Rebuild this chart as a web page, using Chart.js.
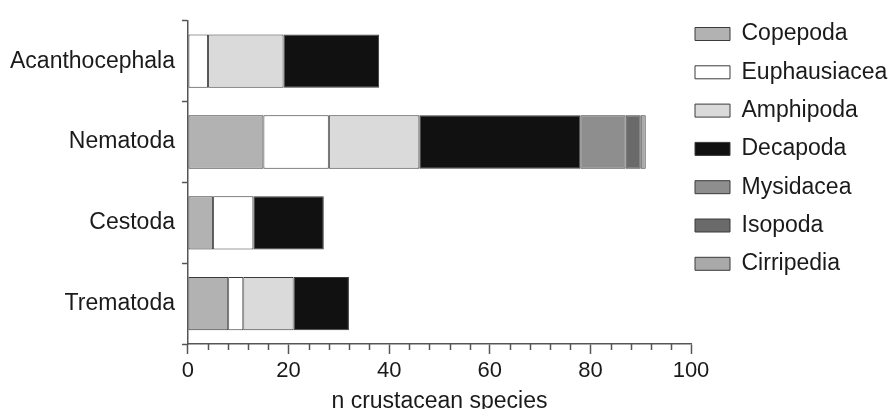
<!DOCTYPE html>
<html>
<head>
<meta charset="utf-8">
<script src="https://cdn.jsdelivr.net/npm/chart.js@4"></script>
<style>
  html, body { margin: 0; padding: 0; background: #fff; }
  #wrap { width: 893px; height: 409px; }
</style>
</head>
<body>
<div id="wrap"><canvas id="chart"></canvas></div>
<script>
// Number of crustacean host species per parasite group
var categories   = [ 'Acanthocephala', 'Nematoda', 'Cestoda', 'Trematoda' ];
var copepoda     = [ 0, 15, 5, 8 ];
var euphausiacea = [ 4, 13, 8, 3 ];
var amphipoda    = [ 15, 18, 0, 10 ];
var decapoda     = [ 19, 32, 14, 11 ];
var mysidacea    = [ 0, 9, 0, 0 ];
var isopoda      = [ 0, 3, 0, 0 ];
var cirripedia   = [ 0, 1, 0, 0 ];

var FONT = 'Liberation Sans, Arial, Helvetica, sans-serif';
var EDGE = '#3a3a3a';
var AXIS = '#555555';

function series( label, data, fill ) {
	return {
		label: label,
		// empty segments are left out so no stray outline is drawn at 0
		data: data.map( function ( v ) { return v || null; } ),
		backgroundColor: fill,
		borderColor: EDGE,
		borderWidth: 1,
		borderSkipped: false,
		barPercentage: 0.66,
		categoryPercentage: 1
	};
}

// short minor ticks every 4 units, under the long major ticks
var minorTicks = {
	id: 'minorTicks',
	afterDraw: function ( chart ) {
		var sc  = chart.scales.x;
		var ctx = chart.ctx;
		ctx.save();
		ctx.strokeStyle = AXIS;
		ctx.lineWidth = 1.5;
		sc.ticks.forEach( function ( t, i ) {
			if ( t.value % 20 === 0 ) { return; }
			var px = Math.round( sc.getPixelForTick( i ) ) + 0.5;
			ctx.beginPath();
			ctx.moveTo( px, sc.top );
			ctx.lineTo( px, sc.top + 6 );
			ctx.stroke();
		} );
		ctx.restore();
	}
};

// pull the legend a little up and left, like the original figure
var legendNudge = {
	id: 'legendNudge',
	afterLayout: function ( chart ) {
		chart.legend.left -= 11.3;
		chart.legend.top -= 5.3;
	}
};

new Chart( document.getElementById( 'chart' ), {
	type: 'bar',
	data: {
		labels: categories,
		datasets: [
			series( 'Copepoda', copepoda, '#b2b2b2' ),
			series( 'Euphausiacea', euphausiacea, '#ffffff' ),
			series( 'Amphipoda', amphipoda, '#dadada' ),
			series( 'Decapoda', decapoda, '#111111' ),
			series( 'Mysidacea', mysidacea, '#8e8e8e' ),
			series( 'Isopoda', isopoda, '#6a6a6a' ),
			series( 'Cirripedia', cirripedia, '#a9a9a9' )
		]
	},
	plugins: [ minorTicks, legendNudge ],
	options: {
		indexAxis: 'y',
		responsive: true,
		maintainAspectRatio: false,
		animation: false,
		layout: { padding: { top: 12.5, left: 3, right: 0, bottom: -8 } },
		plugins: {
			tooltip: { enabled: false },
			legend: {
				position: 'right',
				align: 'start',
				maxWidth: 202,
				labels: {
					boxWidth: 35,
					boxHeight: 13,
					padding: 15.3,
					color: '#1a1a1a',
					font: { family: FONT, size: 23 }
				}
			}
		},
		scales: {
			x: {
				stacked: true,
				min: 0,
				max: 100,
				border: { color: AXIS, width: 1.5 },
				grid: {
					drawOnChartArea: false,
					tickLength: 10,
					tickWidth: 1.5,
					tickColor: function ( c ) { return c.tick && c.tick.value % 20 ? 'rgba(0,0,0,0)' : AXIS; }
				},
				ticks: {
					stepSize: 4,
					autoSkip: false,
					maxRotation: 0,
					padding: 4,
					color: '#1a1a1a',
					font: { family: FONT, size: 22 },
					callback: function ( v ) { return v % 20 === 0 ? v : ''; }
				},
				title: {
					display: true,
					text: 'n crustacean species',
					color: '#1a1a1a',
					font: { family: FONT, size: 23 },
					padding: { top: -1, bottom: 2 }
				}
			},
			y: {
				stacked: true,
				border: { color: AXIS, width: 1.5 },
				grid: {
					drawOnChartArea: false,
					tickLength: 6,
					tickColor: AXIS,
					tickWidth: 1.5
				},
				ticks: {
					padding: 7,
					color: '#1a1a1a',
					font: { family: FONT, size: 23 }
				}
			}
		}
	}
} );
</script>
</body>
</html>
